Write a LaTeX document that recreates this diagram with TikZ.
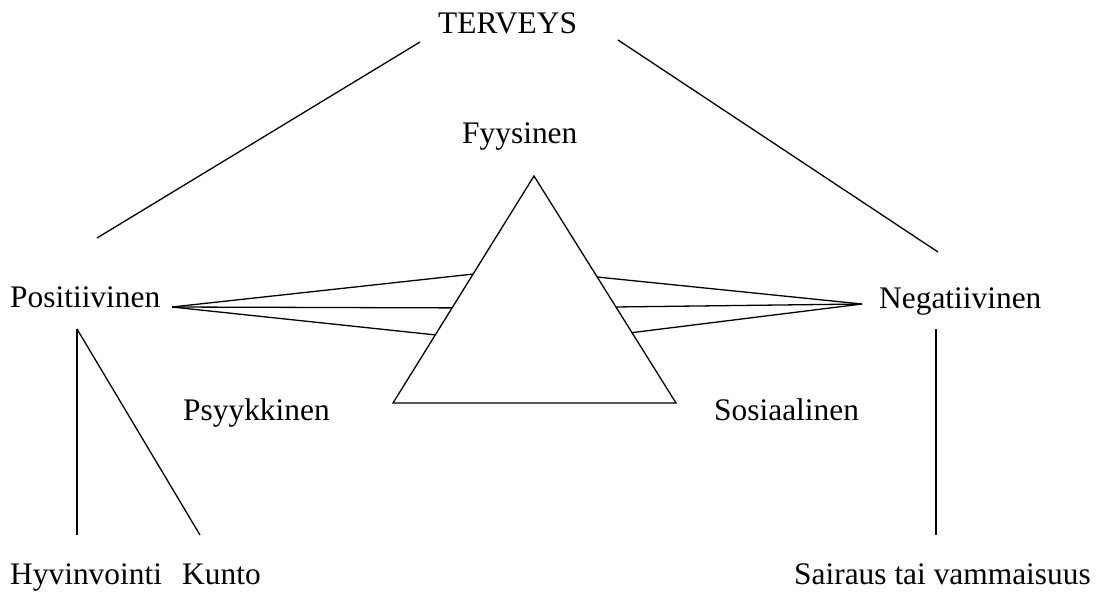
\documentclass[tikz,border=0pt]{standalone}
\usepackage{fontspec}
\setmainfont{Liberation Serif}
\usetikzlibrary{calc}
\begin{document}
\begin{tikzpicture}[x=1pt,y=-1pt,
  lbl/.style={anchor=base west,inner sep=0pt,font=\fontsize{31.4}{36}\selectfont},
  ln/.style={line width=1.3pt,line join=miter}]
\useasboundingbox (0,0) rectangle (1102,592);
% labels
\node[lbl] (terveys) at (438,33) {TERVEYS};
\node[lbl] (fyys) at (462,143) {Fyysinen};
\node[lbl] (pos) at (10,307) {Positiivinen};
\node[lbl] (neg) at (879,308) {Negatiivinen};
\node[lbl] (psyk) at (183,420) {Psyykkinen};
\node[lbl] (sos) at (714,420) {Sosiaalinen};
\node[lbl] (hyv) at (10,584) {Hyvinvointi};
\node[lbl] (kunto) at (182,584) {Kunto};
\node[lbl] (sair) at (794,584) {Sairaus tai vammaisuus};
% triangle
\coordinate (apex) at (534,176);
\coordinate (bl) at (393,403);
\coordinate (br) at (676,403);
\draw[ln] (apex) -- (bl) -- (br) -- cycle;
% line end points
\coordinate (tl1) at (420,42);
\coordinate (tl2) at (97,238);
\coordinate (tr1) at (618,40);
\coordinate (tr2) at (938,252);
\coordinate (pfan) at (172,307);
\coordinate (nfan) at (862,304);
\coordinate (l1) at ($(apex)!0.432!(bl)$);
\coordinate (l2) at ($(apex)!0.581!(bl)$);
\coordinate (l3) at ($(apex)!0.700!(bl)$);
\coordinate (r1) at ($(apex)!0.445!(br)$);
\coordinate (r2) at ($(apex)!0.577!(br)$);
\coordinate (r3) at ($(apex)!0.690!(br)$);
\coordinate (ptop) at (77,329);
\coordinate (hbot) at (77,535);
\coordinate (kbot) at (200,535);
\coordinate (ntop) at (936,329);
\coordinate (sbot) at (936,535);
% connectors
\draw[ln] (tl1) -- (tl2);
\draw[ln] (tr1) -- (tr2);
\draw[ln] (pfan) -- (l1);
\draw[ln] (pfan) -- (l2);
\draw[ln] (pfan) -- (l3);
\draw[ln] (nfan) -- (r1);
\draw[ln] (nfan) -- (r2);
\draw[ln] (nfan) -- (r3);
\draw[ln] (ptop) -- (hbot);
\draw[ln] (ptop) -- (kbot);
\draw[ln] (ntop) -- (sbot);
\end{tikzpicture}
\end{document}
